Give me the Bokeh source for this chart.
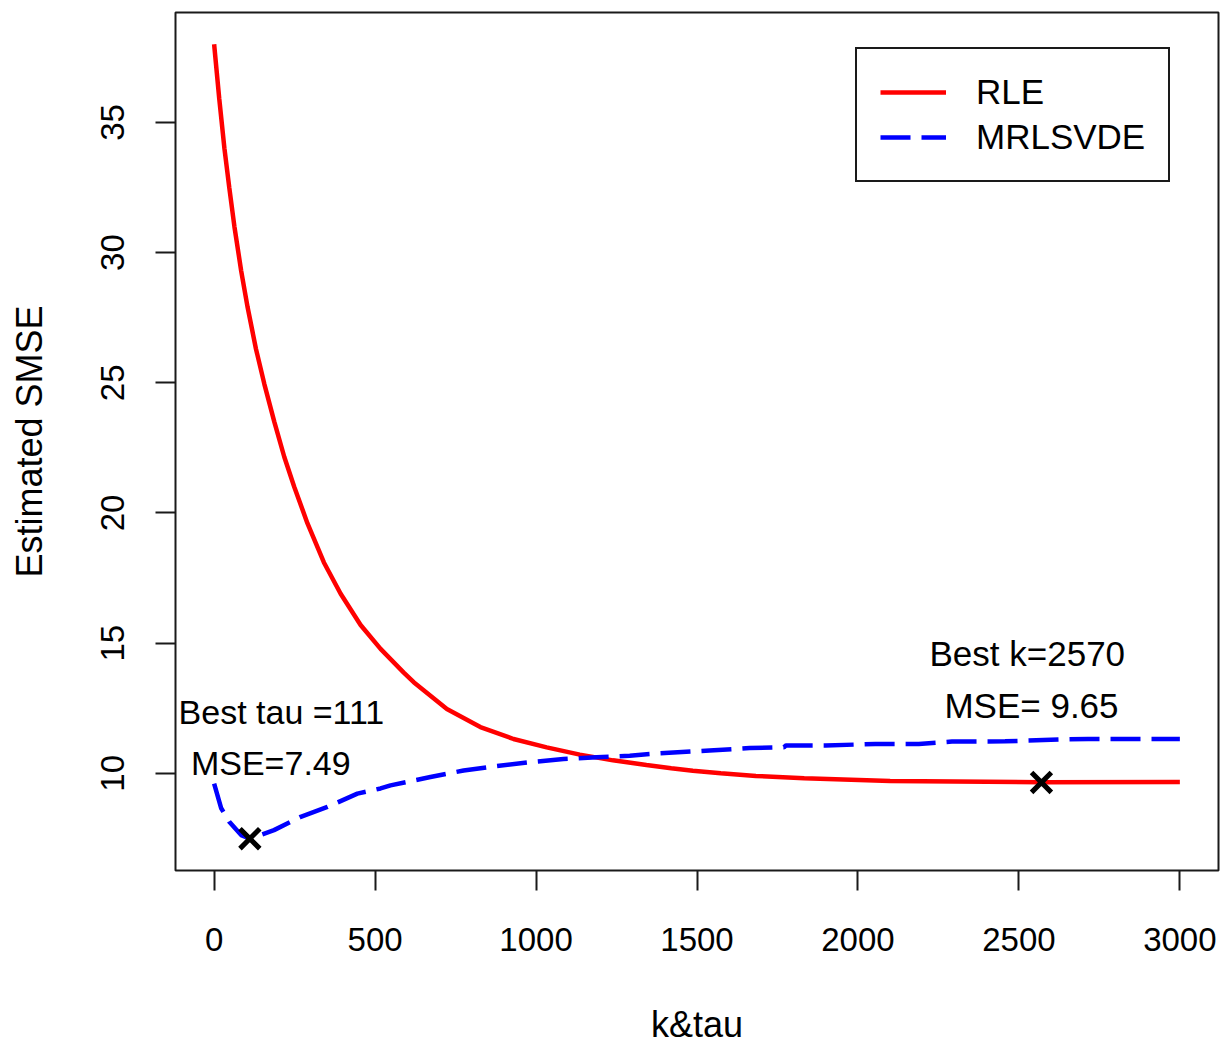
from bokeh.plotting import figure
from bokeh.models import Range1d, FixedTicker, Legend, LegendItem
from bokeh.embed import file_html
from bokeh.resources import INLINE
from bokeh.core.properties import value

# ---- data ----
rle_k = [0, 16, 32, 47, 63, 84, 104, 130, 156, 187, 218, 249, 290, 341, 393,
         455, 517, 589, 620, 723, 827, 930, 1033, 1136, 1239, 1343, 1420, 1487,
         1574, 1683, 1833, 2100, 2570, 3000]
rle_mse = [38.0, 35.9, 34.0, 32.5, 31.0, 29.3, 27.9, 26.3, 24.95, 23.5, 22.15,
           21.0, 19.6, 18.1, 16.9, 15.7, 14.78, 13.87, 13.5, 12.47, 11.78, 11.32,
           11.0, 10.72, 10.5, 10.32, 10.2, 10.1, 10.0, 9.9, 9.81, 9.71, 9.66, 9.67]

mr_tau = [0, 22, 47, 84, 111, 186, 269, 352, 445, 517, 548, 672, 775, 878, 981,
          1085, 1188, 1291, 1384, 1539, 1663, 1770, 1776, 1900, 2054, 2189, 2292,
          2457, 2630, 2715, 3000]
mr_mse = [9.61, 8.66, 8.14, 7.63, 7.49, 7.82, 8.33, 8.71, 9.22, 9.42, 9.54, 9.86,
          10.11, 10.28, 10.43, 10.55, 10.62, 10.68, 10.77, 10.88, 10.97, 11.0, 11.07,
          11.07, 11.13, 11.13, 11.22, 11.23, 11.30, 11.32, 11.32]

best_k, best_k_mse = 2570, 9.65
best_tau, best_tau_mse = 111, 7.49

x_ticks = [0, 500, 1000, 1500, 2000, 2500, 3000]
y_ticks = [10, 15, 20, 25, 30, 35]

FONT = "Liberation Sans"

# R-style 4% range extension
xall = rle_k + mr_tau
yall = rle_mse + mr_mse + [best_tau_mse]
xmin, xmax = min(xall), max(xall)
ymin, ymax = min(yall), max(yall)
dx = (xmax - xmin) * 0.04
dy = (ymax - ymin) * 0.04

W, H = 1223, 1047
p = figure(width=W, height=H, output_backend="svg", toolbar_location=None,
           x_range=Range1d(xmin - dx, xmax + dx),
           y_range=Range1d(ymin - dy, ymax + dy),
           min_border_left=175, min_border_top=12, min_border_right=5,
           min_border_bottom=171)
p.background_fill_color = "white"
p.border_fill_color = "white"
p.outline_line_color = "#1a1a1a"
p.outline_line_width = 2
p.xgrid.visible = False
p.ygrid.visible = False

for ax in (p.xaxis[0], p.yaxis[0]):
    ax.axis_line_color = None
    ax.major_tick_out = 20
    ax.major_tick_in = 0
    ax.major_tick_line_color = "#1a1a1a"
    ax.major_tick_line_width = 2
    ax.minor_tick_line_color = None
    ax.major_label_text_font = FONT
    ax.major_label_text_font_size = "33px"
    ax.major_label_text_color = "black"
    ax.axis_label_text_font = FONT
    ax.axis_label_text_font_size = "36px"
    ax.axis_label_text_font_style = "normal"
    ax.axis_label_text_color = "black"

p.xaxis.ticker = FixedTicker(ticks=x_ticks)
p.yaxis.ticker = FixedTicker(ticks=y_ticks)
p.xaxis.axis_label = "k&tau"
p.yaxis.axis_label = "Estimated SMSE"
p.xaxis.major_label_standoff = 37
p.xaxis.axis_label_standoff = 50
p.yaxis.major_label_orientation = "vertical"
p.yaxis.major_label_standoff = 31
p.yaxis.axis_label_standoff = 49

r1 = p.line(rle_k, rle_mse, line_color="red", line_width=4.5)
r2 = p.line(mr_tau, mr_mse, line_color="blue", line_width=4.5, line_dash="30 11")

p.scatter([best_tau, best_k], [best_tau_mse, best_k_mse], marker="x", size=28,
          line_color="black", line_width=5)

# annotations (positioned relative to the best points)
p.text([best_tau + 98, best_tau + 65], [best_tau_mse + 4.88, best_tau_mse + 2.89],
       text=["Best tau =111", "MSE=7.49"], text_font=value(FONT),
       text_font_size="34px", text_align="center", text_baseline="middle",
       text_color="black")
p.text([best_k - 44, best_k - 31], [best_k_mse + 4.97, best_k_mse + 2.95],
       text=["Best k=2570", "MSE= 9.65"], text_font=value(FONT),
       text_font_size="35px", text_align="center", text_baseline="middle",
       text_color="black")

legend = Legend(items=[LegendItem(label="RLE", renderers=[r1]),
                       LegendItem(label="MRLSVDE", renderers=[r2])],
                location=(680, 688))
legend.label_text_font = FONT
legend.label_text_font_size = "35px"
legend.label_text_color = "black"
legend.glyph_width = 66
legend.glyph_height = 40
legend.label_height = 40
legend.label_standoff = 30
legend.spacing = 5
legend.padding = 23
legend.margin = 0
legend.border_line_color = "#1a1a1a"
legend.border_line_width = 2
legend.border_line_alpha = 1.0
legend.background_fill_alpha = 1.0
p.add_layout(legend, "center")

open("out.html", "w").write(file_html(p, INLINE))
